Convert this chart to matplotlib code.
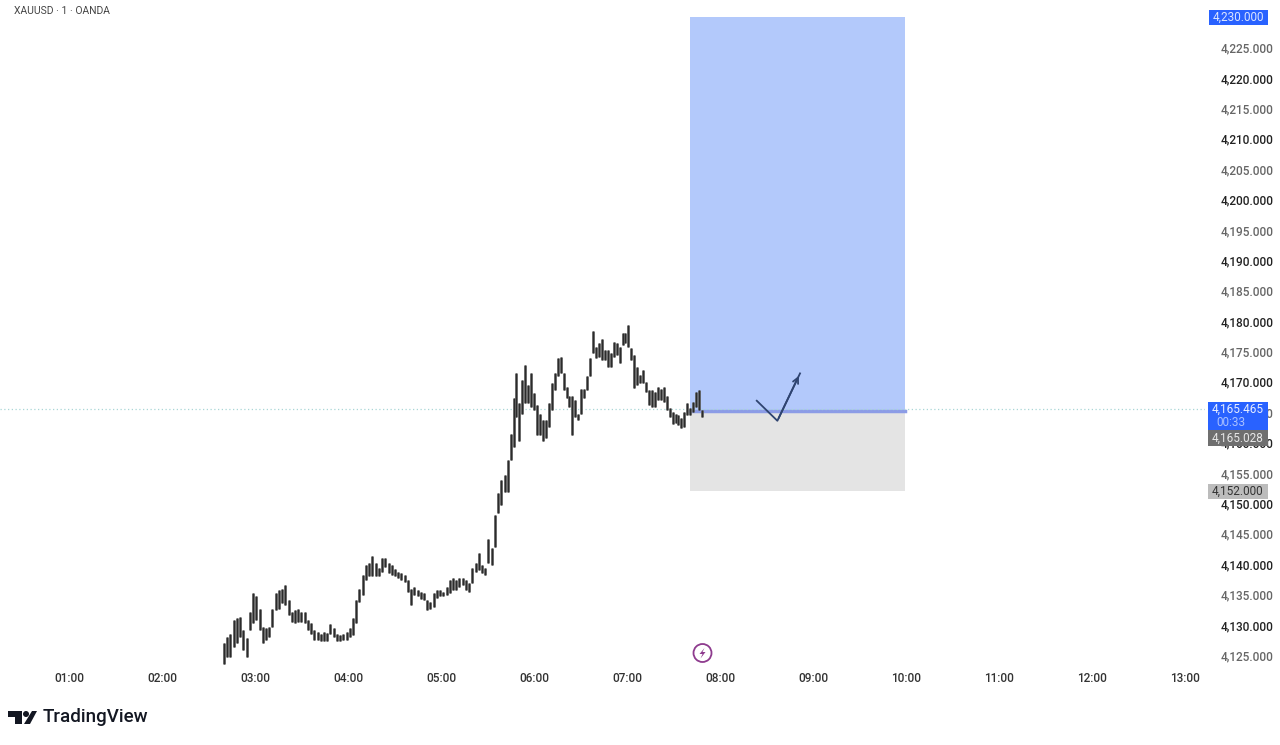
"""XAUUSD 1 minute chart with a long position box, TradingView style."""
import numpy as np
import matplotlib.pyplot as plt
from matplotlib.patches import Circle, Polygon, Rectangle

OUTPUT_PATH = "out.png"

# highs and lows, first stretch 02:40 - 05:39
highs_a = [4127.0, 4128.1, 4128.6, 4130.8, 4131.1, 4131.4, 4129.2, 4127.8, 4132.2, 4135.2,
           4134.7, 4132.7, 4129.7, 4129.5, 4129.7, 4132.7, 4135.2, 4135.8, 4136.0, 4136.6,
           4134.1, 4132.2, 4132.5, 4132.7, 4132.2, 4132.2, 4130.8, 4130.3, 4129.2, 4128.9,
           4128.6, 4128.9, 4128.7, 4130.2, 4129.5, 4128.6, 4128.4, 4128.5, 4128.9, 4129.5,
           4131.1, 4134.1, 4136.0, 4138.2, 4139.9, 4140.2, 4141.4, 4140.2, 4139.3, 4141.0,
           4141.0, 4140.2, 4139.9, 4139.2, 4138.8, 4138.5, 4138.2, 4137.4, 4136.0, 4136.2,
           4135.8, 4135.5, 4135.2, 4134.1, 4133.8, 4135.2, 4135.8, 4135.8, 4135.5, 4136.3,
           4137.4, 4137.8, 4137.4, 4137.7, 4137.8, 4137.4, 4136.9, 4139.3, 4140.2, 4141.9,
           4139.9, 4139.3, 4144.2, 4142.6, 4148.1, 4151.7, 4153.9]
lows_a = [4123.6, 4124.8, 4124.8, 4126.4, 4127.0, 4128.1, 4125.9, 4124.8, 4129.2, 4130.3,
          4130.8, 4129.2, 4127.0, 4127.5, 4128.1, 4129.7, 4132.5, 4132.7, 4133.6, 4133.3,
          4131.6, 4130.5, 4130.3, 4130.5, 4130.5, 4130.3, 4129.2, 4128.6, 4127.6, 4127.5,
          4127.4, 4127.4, 4127.4, 4128.6, 4128.1, 4127.4, 4127.4, 4127.5, 4127.6, 4128.1,
          4128.4, 4130.3, 4133.8, 4135.0, 4137.4, 4138.0, 4138.0, 4138.0, 4138.0, 4138.8,
          4139.6, 4138.5, 4138.2, 4138.0, 4137.7, 4137.4, 4137.1, 4135.5, 4133.3, 4135.0,
          4134.7, 4134.2, 4134.1, 4132.4, 4132.6, 4133.0, 4134.4, 4134.7, 4134.7, 4135.0,
          4135.2, 4135.8, 4135.8, 4136.3, 4136.6, 4135.8, 4135.5, 4136.9, 4138.8, 4139.1,
          4138.5, 4138.2, 4140.2, 4139.9, 4142.9, 4148.4, 4149.7]

# second stretch 05:41 - 07:48
highs_b = [4154.7, 4157.1, 4161.5, 4167.3, 4171.4, 4166.5, 4170.3, 4172.8, 4169.5, 4171.4,
           4168.1, 4166.2, 4164.8, 4163.7, 4163.7, 4166.5, 4169.8, 4171.4, 4173.9, 4174.1,
           4171.4, 4169.2, 4167.6, 4167.6, 4167.0, 4164.8, 4168.9, 4168.9, 4170.9, 4173.9,
           4178.4, 4175.8, 4176.4, 4177.0, 4175.2, 4175.2, 4174.7, 4176.6, 4176.4, 4175.8,
           4178.1, 4178.0, 4179.4, 4175.5, 4174.4, 4172.5, 4171.1, 4172.0, 4170.0, 4168.7,
           4168.7, 4168.4, 4169.2, 4168.9, 4169.2, 4167.6, 4165.7, 4165.1, 4164.8, 4164.6,
           4164.0, 4165.1, 4166.5, 4165.7, 4166.7, 4168.4, 4168.7, 4165.4]
lows_b = [4151.9, 4151.9, 4157.1, 4159.3, 4164.3, 4160.2, 4164.8, 4166.5, 4166.5, 4165.9,
          4165.4, 4161.3, 4161.3, 4160.3, 4160.7, 4162.6, 4165.4, 4168.7, 4170.9, 4171.4,
          4168.7, 4167.3, 4165.9, 4161.3, 4164.3, 4163.8, 4164.8, 4167.3, 4168.7, 4170.9,
          4174.7, 4173.9, 4174.1, 4173.6, 4173.6, 4172.5, 4172.4, 4174.1, 4174.4, 4173.1,
          4176.1, 4176.4, 4175.8, 4173.6, 4169.0, 4169.5, 4169.8, 4169.8, 4168.4, 4166.2,
          4165.9, 4165.9, 4167.0, 4167.0, 4166.7, 4165.4, 4164.3, 4163.1, 4163.2, 4162.9,
          4162.4, 4162.6, 4164.6, 4164.6, 4165.1, 4165.9, 4165.4, 4164.3]

# position box and hand drawn arrow, minutes since 00:00 and price
box_start, box_end = 460.5, 599.2
box_top, box_entry, box_stop = 4230.0, 4165.2, 4152.0
arrow_minutes = [503.6, 516.9, 531.5]
arrow_prices = [4166.9, 4163.6, 4171.4]
last_price = 4165.465

hour_ticks = list(range(1, 14))
price_ticks = list(range(4125, 4226, 5))

highs = highs_a + highs_b
lows = lows_a + lows_b
minutes = np.concatenate([160 + 2.08 * np.arange(len(highs_a)),
                          341 + 1.9 * np.arange(len(highs_b))])

plt.rcParams["font.family"] = ["Roboto", "DejaVu Sans"]

fig = plt.figure(figsize=(12.8, 7.45), dpi=100)
ax = fig.add_axes([0, 1 - 668 / 745, 1205 / 1280, 668 / 745])
ax.set_xlim(15.5, 792.7)
ax.set_ylim(4122.93, 4232.83)

ax.add_patch(Rectangle((box_start, box_entry), box_end - box_start, box_top - box_entry,
                       color="#b3c9fb", lw=0, zorder=1))
ax.add_patch(Rectangle((box_start, box_stop), box_end - box_start, box_entry - box_stop,
                       color="#e4e4e4", lw=0, zorder=1))
ax.plot([box_start, box_end], [box_entry, box_entry], color="#8c9ce6", lw=2.5, zorder=2)
ax.axhline(last_price, color="#a9d6d6", lw=0.9, ls=(0, (1, 2)), zorder=2)

ax.vlines(minutes, lows, highs, color="#5a5a5a", lw=2.0, zorder=3)
ax.vlines(minutes, lows, highs, color="#222222", lw=0.6, zorder=4)

ax.plot(arrow_minutes, arrow_prices, color="#2f4470", lw=1.3, zorder=5)
ax.annotate("", xy=(arrow_minutes[2], arrow_prices[2]), xytext=(arrow_minutes[1], arrow_prices[1]),
            arrowprops=dict(arrowstyle="->", color="#2f4470", lw=1.3, mutation_scale=10), zorder=5)

for side in ax.spines.values():
    side.set_visible(False)

ax.set_xticks([h * 60 for h in hour_ticks])
ax.set_xticklabels([f"{h:02d}:00" for h in hour_ticks], fontsize=8.5, fontweight="medium",
                   color="#333333")
ax.yaxis.tick_right()
ax.set_yticks(price_ticks)
ax.set_yticklabels([f"{p:,}.000" for p in price_ticks], fontsize=8.5, fontweight="medium")
for p, label in zip(price_ticks, ax.get_yticklabels()):
    label.set_color("#222222" if p % 10 == 0 else "#666666")
ax.tick_params(axis="x", length=0, pad=3)
ax.tick_params(axis="y", length=0, pad=11)

# overlay in pixel coordinates for tags and branding
over = fig.add_axes([0, 0, 1, 1], zorder=10)
over.set_xlim(0, 1280)
over.set_ylim(745, 0)
over.axis("off")

over.text(14, 11, "XAUUSD · 1 · OANDA", fontsize=7.5, color="#444444", va="center")

over.add_patch(Rectangle((1209, 10), 59, 15, color="#2962ff", lw=0))
over.text(1238, 17.5, "4,230.000", fontsize=8.5, color="#dbe5ff", ha="center", va="center")
over.add_patch(Rectangle((1208, 402), 60, 28, color="#2962ff", lw=0))
over.text(1238, 409, "4,165.465", fontsize=8.5, color="#e6edff", ha="center", va="center")
over.text(1216, 422, "00:33", fontsize=8.5, color="#a9c1ff", va="center")
over.add_patch(Rectangle((1208, 430), 60, 16, color="#6f6f6f", lw=0))
over.text(1238, 438, "4,165.028", fontsize=8.5, color="#e8e8e8", ha="center", va="center")
over.add_patch(Rectangle((1208, 484), 60, 15, color="#bcbcbc", lw=0))
over.text(1238, 491.5, "4,152.000", fontsize=8.5, color="#333333", ha="center", va="center")

over.add_patch(Circle((702.5, 653), 9, fc="white", ec="#8e3b8e", lw=1.3))
over.add_patch(Polygon([(704.5, 648), (699.5, 654), (702.5, 654), (700.5, 658.5),
                        (705.5, 652), (702.5, 652)], color="#8e3b8e", lw=0))

# TradingView logo
over.add_patch(Polygon([(8, 711), (22, 711), (22, 724), (15, 724), (15, 717), (8, 717)],
                       color="#131722", lw=0))
over.add_patch(Circle((26, 714), 3, color="#131722", lw=0))
over.add_patch(Polygon([(32, 711), (37, 711), (30, 724), (24, 724)], color="#131722", lw=0))
over.text(43, 717.5, "TradingView", fontsize=13.5, fontweight="medium", color="#131722", va="center")

plt.savefig(OUTPUT_PATH, dpi=100)
print(f"Saved {OUTPUT_PATH}")
